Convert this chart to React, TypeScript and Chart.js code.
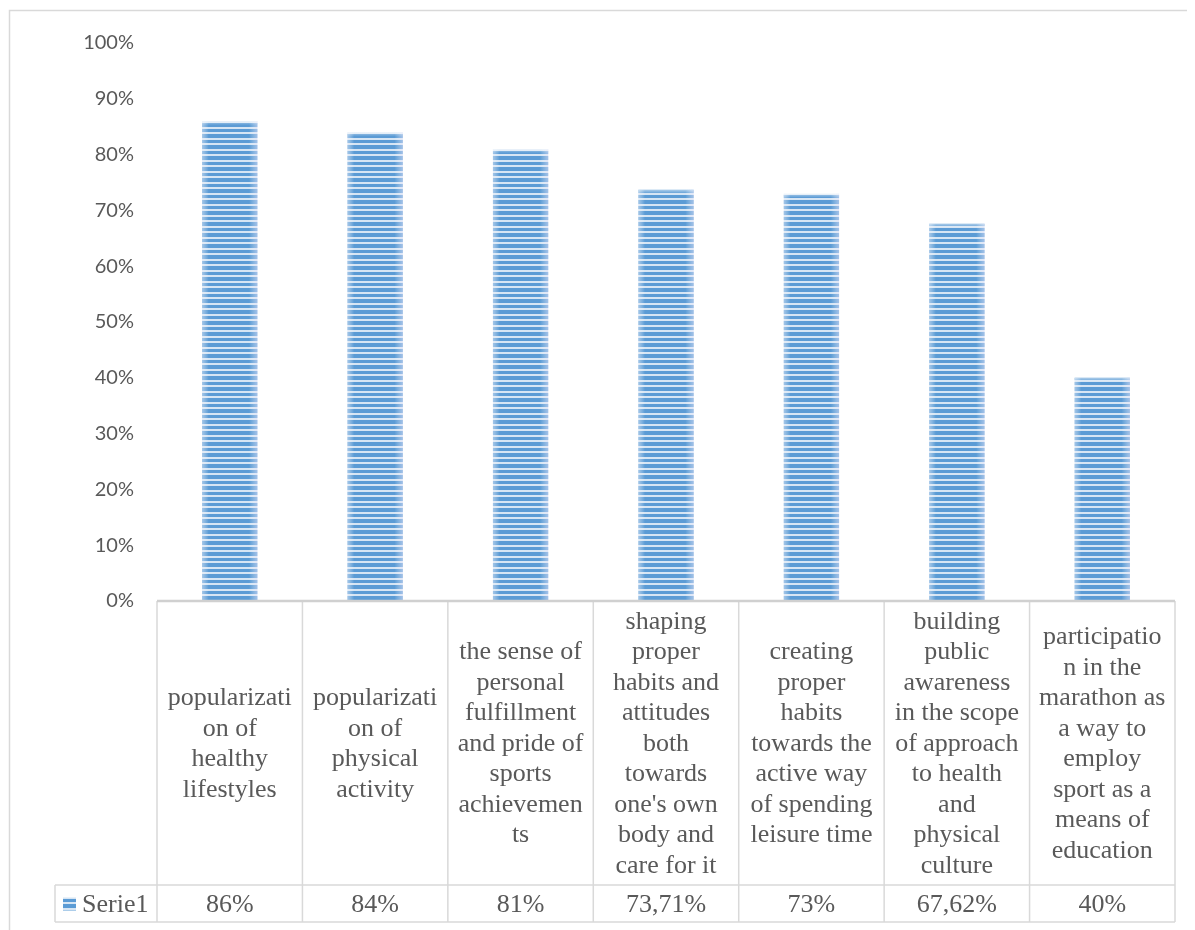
import React, { useEffect, useRef } from "react";
import { Chart, registerables } from "chart.js";

Chart.register(...registerables);

const categories: string[][] = [
  ["popularizati", "on of", "healthy", "lifestyles"],
  ["popularizati", "on of", "physical", "activity"],
  ["the sense of", "personal", "fulfillment", "and pride of", "sports", "achievemen", "ts"],
  ["shaping", "proper", "habits and", "attitudes", "both", "towards", "one's own", "body and", "care for it"],
  ["creating", "proper", "habits", "towards the", "active way", "of spending", "leisure time"],
  ["building", "public", "awareness", "in the scope", "of approach", "to health", "and", "physical", "culture"],
  ["participatio", "n in the", "marathon as", "a way to", "employ", "sport as a", "means of", "education"],
];
const serieValues: number[] = [86, 84, 81, 73.71, 73, 67.62, 40];
const valueLabels: string[] = ["86%", "84%", "81%", "73,71%", "73%", "67,62%", "40%"];
const seriesName = "Serie1";
const yMin = 0;
const yMax = 100;
const yStep = 10;

const GRID = "#d9d9d9";
const TEXT = "#595959";
const SERIF = "'Liberation Serif', 'Times New Roman', serif";

function makePattern(): CanvasPattern | string {
  const c = document.createElement("canvas");
  c.width = 4;
  c.height = 11;
  const g = c.getContext("2d");
  if (!g) return "#5b9bd5";
  g.fillStyle = "#d6e5f4";
  g.fillRect(0, 0, 4, 11);
  g.fillStyle = "#5b9bd5";
  g.fillRect(0, 0, 4, 3);
  g.fillRect(0, 5, 4, 4);
  const p = g.createPattern(c, "repeat");
  return p || "#5b9bd5";
}

const tablePlugin = {
  id: "dataTable",
  afterDatasetsDraw(chart: any) {
    const ctx = chart.ctx;
    const meta = chart.getDatasetMeta(0);
    ctx.save();
    meta.data.forEach((bar: any) => {
      const left = bar.x - bar.width / 2;
      const right = bar.x + bar.width / 2;
      const top = Math.min(bar.y, bar.base);
      const h = Math.abs(bar.base - bar.y);
      const gr = ctx.createLinearGradient(left, 0, right, 0);
      gr.addColorStop(0, "rgba(235,240,250,0.5)");
      gr.addColorStop(0.12, "rgba(255,255,255,0.0)");
      gr.addColorStop(0.85, "rgba(255,255,255,0.0)");
      gr.addColorStop(1, "rgba(235,230,250,0.5)");
      ctx.fillStyle = gr;
      ctx.fillRect(left, top, right - left, h);
      const tg = ctx.createLinearGradient(0, top, 0, top + 4);
      tg.addColorStop(0, "rgba(255,255,255,0.5)");
      tg.addColorStop(1, "rgba(255,255,255,0)");
      ctx.fillStyle = tg;
      ctx.fillRect(left, top, right - left, 4);
    });
    ctx.restore();
  },
  afterDraw(chart: any) {
    const ctx = chart.ctx;
    const xs = chart.scales.x;
    const area = chart.chartArea;
    const n = categories.length;
    const colW = (area.right - area.left) / n;
    const top = area.bottom;
    const rowLine = top + 284;
    const bottom = rowLine + 37;
    const legendLeft = 47;
    ctx.save();
    // outer frame
    ctx.strokeStyle = GRID;
    ctx.lineWidth = 1.5;
    ctx.beginPath();
    ctx.moveTo(1.5, chart.height);
    ctx.lineTo(1.5, 2.5);
    ctx.lineTo(chart.width, 2.5);
    ctx.stroke();

    // table lines
    ctx.lineWidth = 1.5;
    ctx.beginPath();
    ctx.moveTo(legendLeft, rowLine);
    ctx.lineTo(area.right, rowLine);
    ctx.moveTo(legendLeft, bottom);
    ctx.lineTo(area.right, bottom);
    ctx.moveTo(legendLeft, rowLine);
    ctx.lineTo(legendLeft, bottom);
    for (let i = 0; i <= n; i++) {
      const x = i < n ? xs.getPixelForValue(i) - colW / 2 : xs.getPixelForValue(n - 1) + colW / 2;
      ctx.moveTo(x, top);
      ctx.lineTo(x, bottom);
    }
    ctx.stroke();
    ctx.lineWidth = 2.5;
    ctx.strokeStyle = "#d0d0d0";
    ctx.beginPath();
    ctx.moveTo(area.left, top);
    ctx.lineTo(area.right, top);
    ctx.stroke();

    // texts
    ctx.fillStyle = TEXT;
    ctx.font = `26px ${SERIF}`;
    ctx.textAlign = "center";
    ctx.textBaseline = "middle";
    const lh = 30.5;
    const midY = (top + rowLine) / 2 + 1;
    categories.forEach((lines, i) => {
      const cx = xs.getPixelForValue(i);
      const y0 = midY - ((lines.length - 1) * lh) / 2;
      lines.forEach((ln, k) => ctx.fillText(ln, cx, y0 + k * lh));
      ctx.fillText(valueLabels[i], cx, (rowLine + bottom) / 2 + 2);
    });
    // legend cell
    const ly = (rowLine + bottom) / 2;
    const pat = makePattern();
    ctx.fillStyle = pat as any;
    ctx.fillRect(55, ly - 6, 13, 13);
    ctx.fillStyle = TEXT;
    ctx.textAlign = "left";
    ctx.fillText(seriesName, 74, ly + 2);
    ctx.restore();
  },
};

export default function App() {
  const ref = useRef<HTMLCanvasElement | null>(null);
  useEffect(() => {
    if (!ref.current) return;
    const chart = new Chart(ref.current, {
      type: "bar",
      data: {
        labels: categories,
        datasets: [
          {
            label: seriesName,
            data: serieValues,
            backgroundColor: makePattern() as any,
            borderWidth: 0,
            categoryPercentage: 1,
            barPercentage: 0.38,
          },
        ],
      },
      options: {
        animation: false,
        responsive: false,
        devicePixelRatio: 1,
        layout: { padding: { left: 0, right: 20, top: 30, bottom: 329 } },
        plugins: { legend: { display: false }, tooltip: { enabled: false } },
        scales: {
          x: { display: false, offset: true },
          y: {
            min: yMin,
            max: yMax,
            afterFit(scale: any) {
              scale.width = 149;
            },
            grid: { display: false, drawTicks: false },
            border: { display: false },
            ticks: {
              stepSize: yStep,
              padding: 23,
              color: TEXT,
              font: { family: "Lato, 'Liberation Sans', sans-serif", size: 20 },
              callback: (v: any) => `${v}%`,
            },
          },
        },
      },
      plugins: [tablePlugin],
    });
    return () => chart.destroy();
  }, []);
  return <canvas ref={ref} width={1187} height={922} style={{ display: "block" }} />;
}
